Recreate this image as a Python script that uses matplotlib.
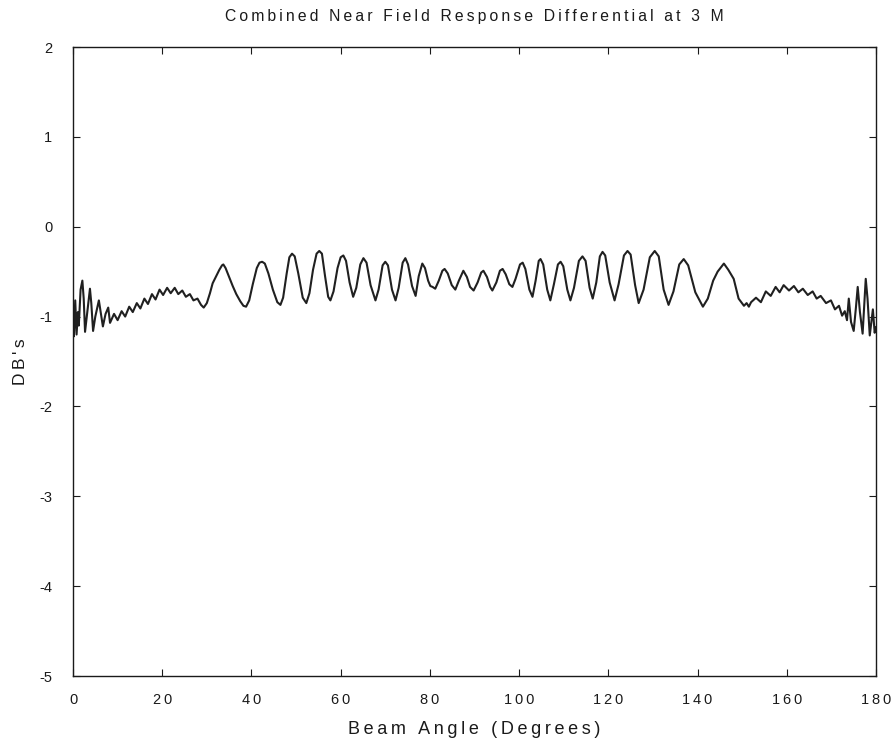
import matplotlib
matplotlib.use("Agg")
import matplotlib.pyplot as plt
from matplotlib.ticker import FuncFormatter

# values
angle = [0.0, 0.2, 0.5, 0.8, 1.1, 1.3, 1.7, 2.1, 2.4, 2.7, 3.2, 3.8, 4.1, 4.5, 5.0, 5.8, 6.2, 6.7, 7.3, 7.9, 8.3,
         9.2, 10.0, 10.9, 11.7, 12.6, 13.4, 14.3, 15.1, 16.0, 16.8, 17.7, 18.5, 19.4, 20.2, 21.1, 21.9, 22.8, 23.6,
         24.5, 25.3, 26.2, 27.0, 27.9, 28.7, 29.3,
         30.0, 30.7, 31.3, 32.0, 32.8, 33.4, 33.7, 34.2, 35.0, 35.8, 36.6, 37.5, 38.2, 38.8,
         39.5, 40.3, 41.2, 41.8, 42.4, 43.0, 43.8, 44.8, 45.8, 46.5,
         47.1, 47.9, 48.5, 49.1, 49.7, 50.5, 51.5, 52.3,
         53.0, 53.8, 54.6, 55.2, 55.8, 56.5, 57.2, 57.7,
         58.4, 59.3, 60.0, 60.6, 61.2, 62.0, 62.8,
         63.5, 64.4, 65.1, 65.8, 66.7, 67.8,
         68.5, 69.4, 70.0, 70.6, 71.5, 72.3,
         73.0, 73.9, 74.5, 75.1, 76.0, 76.8,
         77.5, 78.3, 78.9, 79.6, 80.1, 80.6, 81.2,
         82.0, 82.8, 83.3, 84.0, 84.9, 85.7,
         86.5, 87.5, 88.3, 89.0, 89.8,
         90.7, 91.5, 92.0, 92.8, 93.5, 94.0,
         94.9, 95.7, 96.3, 97.0, 97.8, 98.5,
         99.2, 100.2, 100.8, 101.4, 102.3, 103.0,
         103.7, 104.4, 104.8, 105.4, 106.3, 107.0,
         107.8, 108.7, 109.3, 109.9, 110.8, 111.5,
         112.3, 113.4, 114.2, 114.9, 115.8, 116.5,
         117.3, 118.1, 118.7, 119.3, 120.3, 121.4,
         122.3, 123.5, 124.3, 125.0, 126.0, 126.8,
         127.9, 129.3, 130.4, 131.3, 132.4, 133.5,
         134.6, 135.9, 136.9, 137.9, 139.5, 141.2,
         142.3, 143.5, 144.5, 145.9, 146.9, 148.1, 149.2, 150.4, 151.0, 151.5, 152.0,
         153.1, 154.2, 155.3, 156.4, 157.5, 158.4, 159.3, 160.5, 161.6, 162.6, 163.6, 164.7,
         165.8, 166.7, 167.6, 168.8, 169.9, 170.8, 171.7, 172.4, 173.0, 173.5, 173.9, 174.4,
         175.0, 175.5, 175.9, 176.4, 177.0, 177.4, 177.7, 178.1, 178.6, 179.0, 179.3, 179.7, 180.0]

db = [-1.00, -1.22, -0.82, -1.20, -0.95, -1.10, -0.70, -0.60, -0.80, -1.17, -0.95, -0.69, -0.85, -1.16, -1.00,
      -0.82, -0.95, -1.11, -0.97, -0.90, -1.07,
      -0.97, -1.04, -0.94, -1.00, -0.89, -0.95, -0.85, -0.91, -0.80, -0.86, -0.75, -0.81, -0.70, -0.76, -0.68,
      -0.74, -0.68, -0.75, -0.71, -0.78, -0.75, -0.82, -0.80, -0.87, -0.90,
      -0.85, -0.74, -0.63, -0.56, -0.48, -0.43, -0.42, -0.46, -0.56, -0.66, -0.75, -0.83, -0.88, -0.89,
      -0.82, -0.64, -0.46, -0.40, -0.39, -0.41, -0.52, -0.70, -0.84, -0.87,
      -0.79, -0.52, -0.34, -0.30, -0.33, -0.52, -0.79, -0.85,
      -0.74, -0.48, -0.30, -0.27, -0.30, -0.55, -0.78, -0.82,
      -0.72, -0.46, -0.34, -0.32, -0.38, -0.62, -0.78,
      -0.68, -0.42, -0.35, -0.40, -0.65, -0.82,
      -0.70, -0.43, -0.39, -0.43, -0.70, -0.82,
      -0.68, -0.40, -0.35, -0.42, -0.66, -0.77,
      -0.55, -0.41, -0.46, -0.60, -0.66, -0.67, -0.69,
      -0.60, -0.49, -0.47, -0.52, -0.65, -0.70,
      -0.60, -0.49, -0.56, -0.67, -0.71,
      -0.62, -0.51, -0.49, -0.56, -0.67, -0.71,
      -0.62, -0.49, -0.47, -0.53, -0.64, -0.67,
      -0.58, -0.42, -0.40, -0.47, -0.70, -0.78,
      -0.60, -0.38, -0.36, -0.42, -0.70, -0.82,
      -0.64, -0.42, -0.39, -0.44, -0.70, -0.82,
      -0.68, -0.38, -0.33, -0.38, -0.68, -0.80,
      -0.62, -0.33, -0.28, -0.32, -0.62, -0.82,
      -0.64, -0.32, -0.27, -0.31, -0.65, -0.85,
      -0.70, -0.34, -0.27, -0.33, -0.70, -0.87,
      -0.72, -0.42, -0.36, -0.43, -0.73, -0.89,
      -0.80, -0.60, -0.50, -0.41, -0.48, -0.58, -0.80, -0.88, -0.85, -0.89, -0.84,
      -0.79, -0.84, -0.72, -0.77, -0.67, -0.73, -0.65, -0.71, -0.66, -0.73, -0.69, -0.76,
      -0.72, -0.80, -0.77, -0.85, -0.82, -0.92, -0.88, -0.99, -0.94, -1.04, -0.80, -1.06,
      -1.16, -0.90, -0.67, -0.95, -1.19, -0.85, -0.58, -0.80, -1.21, -1.05, -0.92, -1.18, -1.12]

x_ticks = [0, 20, 40, 60, 80, 100, 120, 140, 160, 180]
y_ticks = [-5, -4, -3, -2, -1, 0, 1, 2]

TS = "\u2009"  # thin space to mimic the wide letter spacing of the scan


def spaced(s):
    return TS.join(s)


def tick_label(v, pos):
    n = int(round(v))
    sign = "-" if n < 0 else ""
    return sign + spaced(str(abs(n)))


plt.rcParams["font.family"] = ["Liberation Sans", "DejaVu Sans"]
plt.rcParams["font.size"] = 10.5
ink = "#1a1a1a"

fig = plt.figure(figsize=(8.96, 7.44), dpi=100)
ax = fig.add_axes([73 / 896, 68 / 744, 803 / 896, 629 / 744])

ax.plot(angle, db, color="#202020", linewidth=1.5)

ax.set_xlim(0, 180)
ax.set_ylim(-5, 2)
ax.set_xticks(x_ticks)
ax.set_yticks(y_ticks)
ax.xaxis.set_major_formatter(FuncFormatter(tick_label))
ax.yaxis.set_major_formatter(FuncFormatter(tick_label))
ax.tick_params(direction="in", top=True, right=True, length=5, width=0.8, colors=ink)
ax.tick_params(axis="x", pad=12)
ax.tick_params(axis="y", pad=15)
for sp in ax.spines.values():
    sp.set_color(ink)
    sp.set_linewidth(1.0)

ax.set_title(spaced("Combined Near Field Response Differential at 3 M"), color=ink, pad=19, fontsize=11.3)
ax.set_xlabel(spaced("Beam Angle (Degrees)"), color=ink, labelpad=10, fontsize=13)
ax.set_ylabel(spaced("DB's"), color=ink, labelpad=8, fontsize=12.5)

fig.savefig("out.png", dpi=100)
